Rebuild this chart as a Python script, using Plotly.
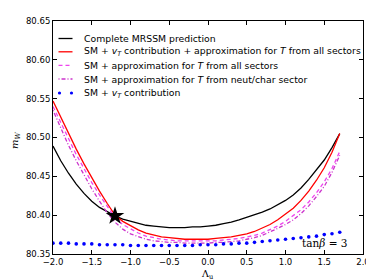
import plotly.graph_objects as go

lam = [round(-2.0 + 0.1 * i, 1) for i in range(38)]

complete = [80.489, 80.470, 80.454, 80.440, 80.428, 80.418, 80.410, 80.404, 80.399, 80.395,
            80.392, 80.389, 80.387, 80.386, 80.385, 80.384, 80.384, 80.384, 80.385, 80.385,
            80.386, 80.387, 80.389, 80.391, 80.394, 80.397, 80.400, 80.404, 80.408, 80.413,
            80.419, 80.426, 80.435, 80.446, 80.458, 80.471, 80.487, 80.505]
vt_approx_all = [80.547, 80.526, 80.505, 80.485, 80.466, 80.448, 80.431, 80.415, 80.400, 80.392,
                 80.386, 80.381, 80.377, 80.374, 80.372, 80.371, 80.370, 80.369, 80.369, 80.369,
                 80.369, 80.370, 80.371, 80.372, 80.374, 80.376, 80.379, 80.383, 80.388, 80.394,
                 80.401, 80.409, 80.419, 80.431, 80.445, 80.461, 80.481, 80.505]
approx_all = [80.540, 80.519, 80.498, 80.478, 80.460, 80.442, 80.426, 80.411, 80.397, 80.388,
              80.382, 80.377, 80.373, 80.371, 80.369, 80.368, 80.367, 80.367, 80.367, 80.367,
              80.367, 80.367, 80.368, 80.369, 80.370, 80.372, 80.374, 80.377, 80.381, 80.386,
              80.392, 80.399, 80.407, 80.417, 80.429, 80.443, 80.460, 80.482]
approx_neut = [80.535, 80.512, 80.490, 80.470, 80.451, 80.434, 80.418, 80.403, 80.391, 80.382,
               80.376, 80.372, 80.369, 80.367, 80.366, 80.365, 80.365, 80.364, 80.364, 80.364,
               80.364, 80.365, 80.365, 80.366, 80.367, 80.369, 80.371, 80.374, 80.378, 80.383,
               80.388, 80.394, 80.402, 80.412, 80.424, 80.437, 80.455, 80.477]
vt_only = [80.364, 80.364, 80.364, 80.363, 80.363, 80.363, 80.362, 80.362, 80.362, 80.362,
           80.361, 80.361, 80.361, 80.361, 80.361, 80.361, 80.361, 80.361, 80.361, 80.362,
           80.362, 80.362, 80.363, 80.363, 80.364, 80.364, 80.365, 80.366, 80.367, 80.368,
           80.369, 80.370, 80.371, 80.372, 80.373, 80.375, 80.376, 80.378]

star_x = [-1.2]
star_y = [80.399]

x_ticks = [-2.0, -1.5, -1.0, -0.5, 0.0, 0.5, 1.0, 1.5, 2.0]
x_tick_text = ["\u22122.0", "\u22121.5", "\u22121.0", "\u22120.5", "0.0", "0.5", "1.0", "1.5", "2.0"]
y_ticks = [80.35, 80.40, 80.45, 80.50, 80.55, 80.60, 80.65]
y_tick_text = ["80.35", "80.40", "80.45", "80.50", "80.55", "80.60", "80.65"]

names = [
    "Complete MRSSM prediction",
    "SM + <i>v<sub>T</sub></i> contribution + approximation for <i>T</i> from all sectors",
    "SM + approximation for <i>T</i> from all sectors",
    "SM + approximation for <i>T</i> from neut/char sector",
    "SM + <i>v<sub>T</sub></i> contribution",
]
colors = ["black", "red", "#ee44ee", "#cc33cc", "blue"]
dashes = ["solid", "solid", "4px,3px", "1px,2px,4px,2px", None]

series = [complete, vt_approx_all, approx_all, approx_neut, vt_only]

fig = go.Figure()
for name, col, dash, ys in zip(names, colors, dashes, series):
    if dash is None:
        fig.add_trace(go.Scatter(x=lam, y=ys, mode="markers", marker=dict(color=col, size=3.6),
                                 name=name, showlegend=False))
    else:
        fig.add_trace(go.Scatter(x=lam, y=ys, mode="lines", line=dict(color=col, width=1.3, dash=dash),
                                 name=name, showlegend=False))
fig.add_trace(go.Scatter(x=star_x, y=star_y, mode="markers",
                         marker=dict(symbol="star", color="black", size=14), showlegend=False))

# compact hand-drawn legend, like matplotlib's
W, H = 374, 280
L, R, T, B = 45, 19, 13, 34
pw, ph = W - L - R, H - T - B
def px2x(p):
    return (p - L) / pw
def py2y(p):
    return 1 - (p - T) / ph

shapes = []
annotations = []
row_y = [30.5, 43.8, 57.3, 71.0, 85.0]
for name, col, dash, ry in zip(names, colors, dashes, row_y):
    yy = py2y(ry)
    if dash is None:
        for dx in (51.5, 63.5):
            shapes.append(dict(type="circle", xref="paper", yref="paper",
                               x0=px2x(dx - 1.6), x1=px2x(dx + 1.6),
                               y0=py2y(ry + 1.6), y1=py2y(ry - 1.6),
                               fillcolor=col, line=dict(width=0)))
    else:
        shapes.append(dict(type="line", xref="paper", yref="paper",
                           x0=px2x(50.5), x1=px2x(64.5), y0=yy, y1=yy,
                           line=dict(color=col, width=1.3, dash=dash)))
    annotations.append(dict(x=px2x(74), y=yy, xref="paper", yref="paper", text=name,
                            showarrow=False, xanchor="left", yanchor="middle",
                            font=dict(family="DejaVu Sans", size=9.3, color="black")))

annotations.append(dict(x=1.5, y=80.364, xref="x", yref="y", text="tan<i>\u03b2</i> = 3", showarrow=False,
                        font=dict(family="DejaVu Serif", size=10.5, color="black")))
# axis titles
annotations.append(dict(x=px2x(199), y=py2y(257.5), xref="paper", yref="paper", text="\u039b<sub>u</sub>",
                        showarrow=False, xanchor="center", yanchor="top",
                        font=dict(family="DejaVu Serif", size=9.5, color="black")))
annotations.append(dict(x=px2x(7), y=py2y(133), xref="paper", yref="paper", text="<i>m<sub>W</sub></i>",
                        showarrow=False, xanchor="center", yanchor="middle", textangle=-90,
                        font=dict(family="DejaVu Serif", size=10, color="black")))

axis_common = dict(showline=True, linecolor="black", linewidth=1, mirror="ticks", ticks="inside",
                   ticklen=4, tickcolor="black", showgrid=False, zeroline=False, automargin=False,
                   tickfont=dict(family="DejaVu Sans", size=8.5, color="black"))

fig.update_layout(
    width=W, height=H,
    margin=dict(l=L, r=R, t=T, b=B, autoexpand=False),
    paper_bgcolor="white", plot_bgcolor="white",
    xaxis=dict(range=[-2.0, 2.0], tickvals=x_ticks, ticktext=x_tick_text, **axis_common),
    yaxis=dict(range=[80.35, 80.65], tickvals=y_ticks, ticktext=y_tick_text, **axis_common),
    showlegend=False,
    shapes=shapes,
    annotations=annotations,
)

fig.write_html("out.html")
